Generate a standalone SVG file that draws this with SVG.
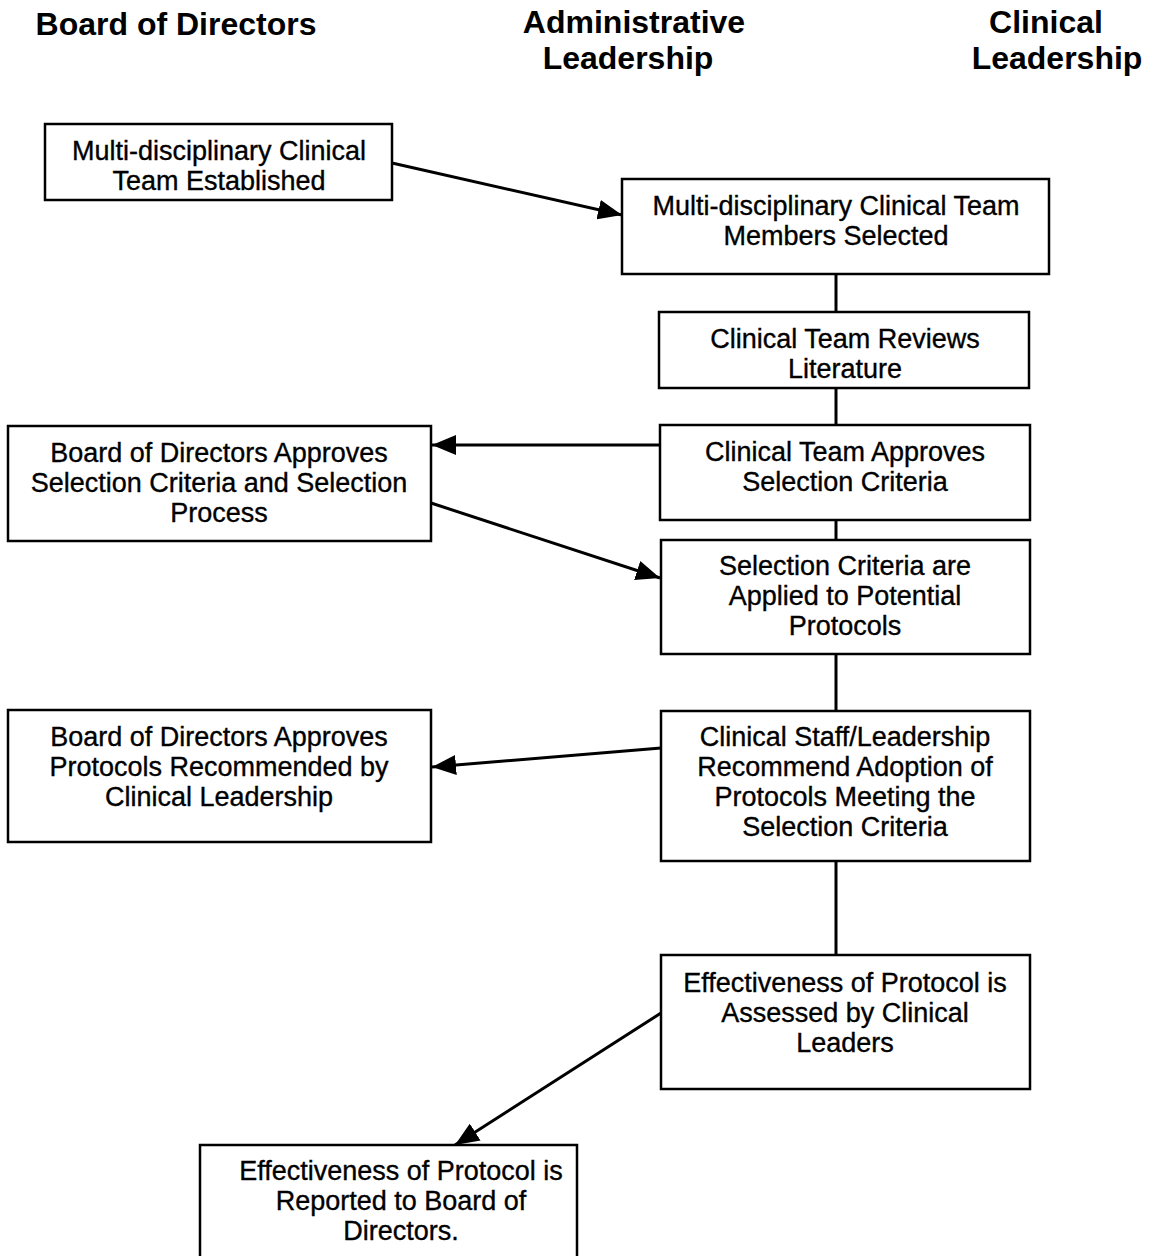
<svg xmlns="http://www.w3.org/2000/svg" width="1155" height="1256" viewBox="0 0 1155 1256">
<style>
.hdr{font-family:"Liberation Sans",Arial,sans-serif;font-weight:bold;font-size:32px;fill:#000;text-anchor:middle}
.t{font-family:"Liberation Sans",Arial,sans-serif;font-size:27px;fill:#000;stroke:#000;stroke-width:0.35;text-anchor:middle}
.box{fill:#fff;stroke:#000;stroke-width:2.5}
.ln{stroke:#000;stroke-width:3;fill:none}
</style>
<defs>
<marker id="arr" viewBox="0 0 24 20" refX="24" refY="10" markerWidth="24" markerHeight="20" markerUnits="userSpaceOnUse" orient="auto">
<path d="M0,0 L24,10 L0,20 z" fill="#000"/>
</marker>
</defs>
<rect width="1155" height="1256" fill="#fff"/>
<g id="headers">
<text class="hdr" x="176" y="35">Board of Directors</text>
<text class="hdr" x="634" y="33">Administrative</text>
<text class="hdr" x="628" y="69">Leadership</text>
<text class="hdr" x="1046" y="33">Clinical</text>
<text class="hdr" x="1057" y="69">Leadership</text>
</g>
<g id="connectors">
<line class="ln" x1="392" y1="163" x2="622" y2="215" marker-end="url(#arr)"/>
<line class="ln" x1="836" y1="274" x2="836" y2="312"/>
<line class="ln" x1="836" y1="388" x2="836" y2="425"/>
<line class="ln" x1="660" y1="445" x2="432" y2="445" marker-end="url(#arr)"/>
<line class="ln" x1="836" y1="520" x2="836" y2="540"/>
<line class="ln" x1="431" y1="503" x2="660" y2="578" marker-end="url(#arr)"/>
<line class="ln" x1="836" y1="654" x2="836" y2="711"/>
<line class="ln" x1="661" y1="748" x2="432" y2="767" marker-end="url(#arr)"/>
<line class="ln" x1="836" y1="861" x2="836" y2="955"/>
<line class="ln" x1="661" y1="1013" x2="455" y2="1145" marker-end="url(#arr)"/>
</g>
<g id="n1">
<rect class="box" x="45" y="124" width="347" height="76"/>
<text class="t" x="219" y="160">Multi-disciplinary Clinical</text>
<text class="t" x="219" y="190">Team Established</text>
</g>
<g id="n2">
<rect class="box" x="622" y="179" width="427" height="95"/>
<text class="t" x="836" y="215">Multi-disciplinary Clinical Team</text>
<text class="t" x="836" y="245">Members Selected</text>
</g>
<g id="n3">
<rect class="box" x="659" y="312" width="370" height="76"/>
<text class="t" x="845" y="348">Clinical Team Reviews</text>
<text class="t" x="845" y="378">Literature</text>
</g>
<g id="n4">
<rect class="box" x="660" y="425" width="370" height="95"/>
<text class="t" x="845" y="461">Clinical Team Approves</text>
<text class="t" x="845" y="491">Selection Criteria</text>
</g>
<g id="n5">
<rect class="box" x="8" y="426" width="423" height="115"/>
<text class="t" x="219" y="462">Board of Directors Approves</text>
<text class="t" x="219" y="492">Selection Criteria and Selection</text>
<text class="t" x="219" y="522">Process</text>
</g>
<g id="n6">
<rect class="box" x="661" y="540" width="369" height="114"/>
<text class="t" x="845" y="575">Selection Criteria are</text>
<text class="t" x="845" y="605">Applied to Potential</text>
<text class="t" x="845" y="635">Protocols</text>
</g>
<g id="n7">
<rect class="box" x="8" y="710" width="423" height="132"/>
<text class="t" x="219" y="746">Board of Directors Approves</text>
<text class="t" x="219" y="776">Protocols Recommended by</text>
<text class="t" x="219" y="806">Clinical Leadership</text>
</g>
<g id="n8">
<rect class="box" x="661" y="711" width="369" height="150"/>
<text class="t" x="845" y="746">Clinical Staff/Leadership</text>
<text class="t" x="845" y="776">Recommend Adoption of</text>
<text class="t" x="845" y="806">Protocols Meeting the</text>
<text class="t" x="845" y="836">Selection Criteria</text>
</g>
<g id="n9">
<rect class="box" x="661" y="955" width="369" height="134"/>
<text class="t" x="845" y="992">Effectiveness of Protocol is</text>
<text class="t" x="845" y="1022">Assessed by Clinical</text>
<text class="t" x="845" y="1052">Leaders</text>
</g>
<g id="n10">
<rect class="box" x="200" y="1145" width="377" height="125"/>
<text class="t" x="401" y="1180">Effectiveness of Protocol is</text>
<text class="t" x="401" y="1210">Reported to Board of</text>
<text class="t" x="401" y="1240">Directors.</text>
</g>
</svg>
